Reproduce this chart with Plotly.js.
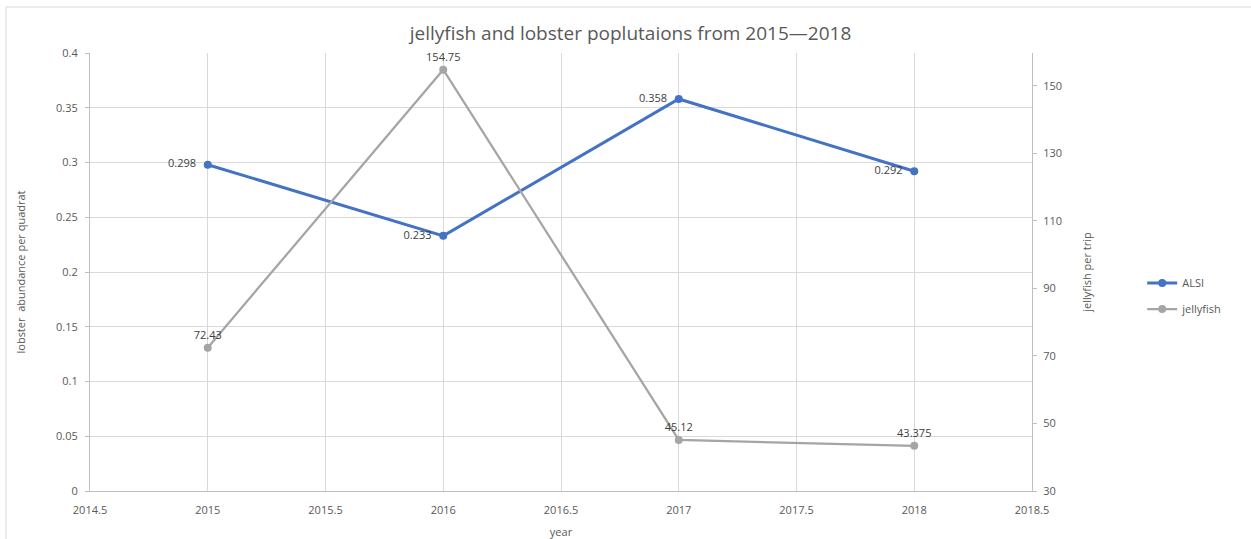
<!DOCTYPE html>
<html>
<head>
<meta charset="utf-8">
<script src="https://cdn.plot.ly/plotly-3.0.1.min.js"></script>
<style>html,body{margin:0;padding:0;background:#fff;}#chart{width:1251px;height:539px;}</style>
</head>
<body>
<div id="chart"></div>
<script>
const years = [2015, 2016, 2017, 2018];
const alsi = [0.298, 0.233, 0.358, 0.292];
const jellyfish = [72.43, 154.75, 45.12, 43.375];
const alsiLabels = ['0.298', '0.233', '0.358', '0.292'];
const jellyLabels = ['72.43', '154.75', '45.12', '43.375'];
const xTickVals = [2014.5, 2015, 2015.5, 2016, 2016.5, 2017, 2017.5, 2018, 2018.5];
const xTickText = ['2014.5', '2015', '2015.5', '2016', '2016.5', '2017', '2017.5', '2018', '2018.5'];
const y2TickVals = [30, 50, 70, 90, 110, 130, 150];

const FONT = 'Open Sans, sans-serif';
const TXT = '#595959';

const traces = [
  {
    x: years, y: alsi, name: 'ALSI', type: 'scatter', mode: 'lines+markers+text',
    text: alsiLabels, texttemplate: '%{text}  ', textposition: 'middle left',
    textfont: {family: FONT, size: 11, color: '#404040'},
    line: {color: '#4472C4', width: 3},
    marker: {color: '#4472C4', size: 8},
    legendgroup: 'a', yaxis: 'y', cliponaxis: false
  },
  {
    x: years, y: jellyfish, name: 'jellyfish', type: 'scatter', mode: 'lines+markers+text',
    text: jellyLabels, textposition: 'top center',
    textfont: {family: FONT, size: 11, color: '#404040'},
    line: {color: '#A5A5A5', width: 2.25},
    marker: {color: '#A5A5A5', size: 8},
    legendgroup: 'b', yaxis: 'y2', cliponaxis: false
  }
];

const layout = {
  width: 1251, height: 539,
  margin: {l: 90, r: 219, t: 53, b: 48},
  paper_bgcolor: '#fff', plot_bgcolor: '#fff',
  font: {family: FONT, size: 11, color: TXT},
  title: {text: 'jellyfish and lobster poplutaions from 2015\u20142018',
          font: {family: FONT, size: 19, color: TXT},
          x: 0.504, xref: 'container', xanchor: 'center', y: 0.938, yanchor: 'middle'},
  xaxis: {
    range: [2014.5, 2018.5], tickmode: 'array', tickvals: xTickVals, ticktext: xTickText,
    showgrid: true, gridcolor: '#D9D9D9', gridwidth: 1,
    zeroline: false, showline: true, linecolor: '#BFBFBF',
    ticks: '', ticklabelstandoff: 9, tickfont: {family: FONT, size: 11, color: TXT},
    title: {text: 'year', font: {family: FONT, size: 11, color: TXT}, standoff: 16}
  },
  yaxis: {
    range: [0, 0.4], dtick: 0.05, tick0: 0,
    showgrid: true, gridcolor: '#D9D9D9', gridwidth: 1,
    zeroline: false, showline: true, linecolor: '#BFBFBF',
    ticks: 'outside', ticklen: 4, tickcolor: '#BFBFBF', ticklabelstandoff: 5,
    tickfont: {family: FONT, size: 11, color: TXT},
    title: {text: 'lobster  abundance per quadrat', font: {family: FONT, size: 11, color: TXT}, standoff: 28}
  },
  yaxis2: {
    overlaying: 'y', side: 'right',
    range: [30, 159.7], tickmode: 'array', tickvals: y2TickVals,
    showgrid: false, zeroline: false, showline: true, linecolor: '#BFBFBF',
    ticks: 'outside', ticklen: 4, tickcolor: '#BFBFBF', ticklabelstandoff: 4,
    tickfont: {family: FONT, size: 11, color: TXT},
    title: {text: 'jellyfish per trip', font: {family: FONT, size: 11, color: TXT}, standoff: 22}
  },
  showlegend: true,
  legend: {
    x: 1.117, y: 0.445, xanchor: 'left', yanchor: 'middle',
    font: {family: FONT, size: 11, color: TXT},
    traceorder: 'grouped', tracegroupgap: 7,
    bgcolor: 'rgba(0,0,0,0)'
  },
  shapes: [
    {type: 'line', xref: 'paper', yref: 'paper', x0: -0.0892, x1: 1.2335, y0: 1.105, y1: 1.105,
     line: {color: '#D9D9D9', width: 1}},
    {type: 'line', xref: 'paper', yref: 'paper', x0: -0.0892, x1: -0.0892, y0: 1.105, y1: -0.11,
     line: {color: '#D9D9D9', width: 1}}
  ]
};

Plotly.newPlot('chart', traces, layout, {displayModeBar: false, staticPlot: true});
</script>
</body>
</html>
